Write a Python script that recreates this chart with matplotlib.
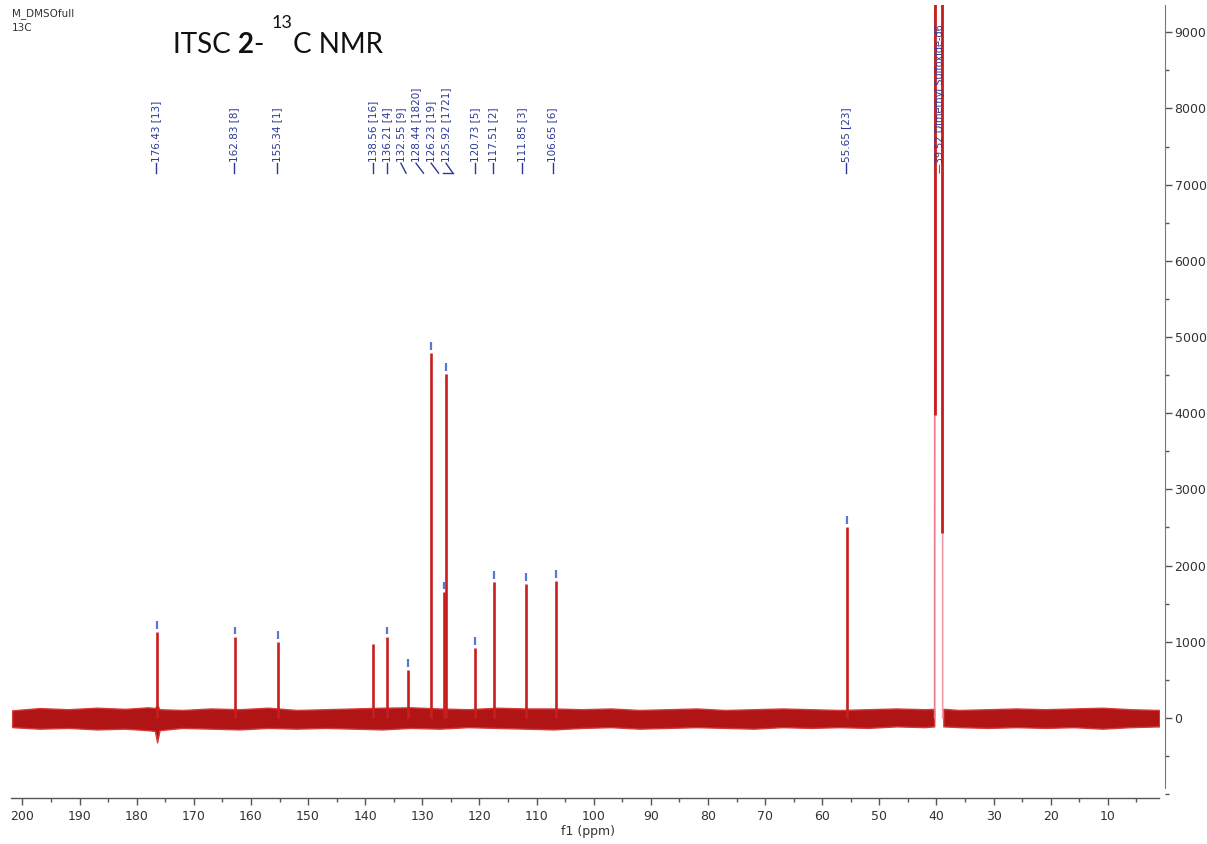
import matplotlib
matplotlib.use("Agg")
import matplotlib.pyplot as plt
from matplotlib.ticker import MultipleLocator

# ---------------- data ----------------
peak_ppm = [176.43, 162.83, 155.34, 138.56, 136.21, 132.55, 128.44, 126.23, 125.92,
            120.73, 117.51, 111.85, 106.65, 55.65]
peak_height = [1130, 1060, 1000, 970, 1060, 630, 4790, 1650, 4520,
               920, 1785, 1760, 1800, 2510]
peak_marked = [True, True, True, False, True, True, True, True, True,
               True, True, True, True, True]
peak_label = ["176.43 [13]", "162.83 [8]", "155.34 [1]", "138.56 [16]", "136.21 [4]",
              "132.55 [9]", "128.44 [1820]", "126.23 [19]", "125.92 [1721]",
              "120.73 [5]", "117.51 [2]", "111.85 [3]", "106.65 [6]", "55.65 [23]"]
label_ppm = [176.55, 162.95, 155.45, 138.6, 136.2, 133.75, 131.1, 128.45, 125.85,
             120.8, 117.7, 112.5, 107.2, 55.8]
label_slant = [0, 0, 0, 0, 0, 0.9, 1.3, 1.3, 1.2, 0, 0, 0, 0, 0]

# DMSO-d6 solvent multiplet (clipped at top)
dmso_label = "39.52 Dimethyl Sulfoxide-d6"
dmso_edge_ppm = [40.20, 39.05]
dmso_edge_height = [3970, 2430]
dmso_top = 30000

# baseline noise envelope (left segment / right segment of DMSO)
noise_ppm_a = [201.8, 197, 192, 187, 182, 178, 176.8, 176.43, 176.0, 172, 167, 162, 157,
               152, 147, 142, 137, 132, 127, 122, 117, 112, 107, 102, 97, 92, 87, 82,
               77, 72, 67, 62, 57, 52, 47, 42, 40.4]
noise_hi_a = [100, 130, 115, 135, 120, 140, 130, 170, 115, 105, 125, 115, 135, 105, 115,
              125, 135, 140, 125, 115, 135, 125, 125, 115, 125, 105, 115, 125, 105, 115,
              125, 115, 105, 115, 125, 115, 120]
noise_lo_a = [-120, -140, -130, -150, -140, -160, -170, -320, -160, -130, -140, -150, -130,
              -140, -130, -140, -150, -130, -140, -120, -130, -140, -150, -130, -120, -140,
              -130, -120, -130, -140, -120, -130, -120, -130, -110, -120, -110]
noise_ppm_b = [38.8, 36, 31, 26, 21, 16, 11, 6, 1.0]
noise_hi_b = [120, 105, 115, 125, 115, 125, 135, 115, 105]
noise_lo_b = [-110, -120, -130, -120, -130, -120, -140, -120, -110]

x_major = list(range(10, 201, 10))
y_major = list(range(0, 9001, 1000))

# ---------------- figure ----------------
W, H = 1207, 844
fig = plt.figure(figsize=(W / 100, H / 100), dpi=100)

def px2fx(x):
    return x / W

def px2fy(y):
    return 1 - y / H

left_px, right_px, top_px, bot_px = 11, 1159.3, 5, 798
ax = fig.add_axes([px2fx(left_px), px2fy(bot_px),
                   (right_px - left_px) / W, (bot_px - top_px) / H])
ax.set_xlim(202, 1)
ax.set_ylim(-1050, 9357)

red = "#c81e1e"
dark_red = "#b01414"
navy = "#2b3896"
marker_blue = "#5a78d0"

# noise band
ax.fill_between(noise_ppm_a, noise_lo_a, noise_hi_a, color=dark_red, lw=1.0,
                edgecolor="#d43a3a", zorder=2)
ax.fill_between(noise_ppm_b, noise_lo_b, noise_hi_b, color=dark_red, lw=1.0,
                edgecolor="#d43a3a", zorder=2)

# peaks
ax.vlines(peak_ppm, 0, peak_height, color=red, lw=1.9, zorder=3)
for p, h, m in zip(peak_ppm, peak_height, peak_marked):
    if m:
        ax.vlines(p, h + 40, h + 140, color=marker_blue, lw=1.6, zorder=4)

# DMSO multiplet
ax.plot([40.32, 40.22], [0, dmso_top], color="#e8788a", lw=1.2, zorder=3)
ax.plot([39.02, 38.92], [dmso_top, 0], color="#f09aa8", lw=1.2, zorder=3)
for p, h in zip(dmso_edge_ppm, dmso_edge_height):
    ax.vlines(p, h, dmso_top, color=red, lw=2.0, zorder=3)
ax.text(39.4, 7150, "\u2014" + dmso_label, rotation=90, ha="center", va="bottom",
        fontsize=7, color=navy, zorder=6, clip_on=False)

# peak labels with connectors
y_bot, y_txt = 7150, 7300
for lp, pk, lab, s in zip(label_ppm, peak_ppm, peak_label, label_slant):
    if s == 0:
        ax.plot([lp, lp], [y_bot, y_txt - 20], color=navy, lw=1.0, zorder=5)
    else:
        ax.plot([lp - s, lp], [y_bot, y_txt - 20], color=navy, lw=1.0, zorder=5)
        if lab.startswith("125.92"):
            ax.plot([lp - s, lp + 0.6], [y_bot, y_bot], color=navy, lw=1.0, zorder=5)
    ax.text(lp, y_txt, lab, rotation=90, ha="center", va="bottom", fontsize=7.5,
            color=navy, zorder=5)

# axes styling
for sp in ["top", "left"]:
    ax.spines[sp].set_visible(False)
ax.spines["right"].set_position(("outward", 4))
ax.spines["right"].set_bounds(-920, 9357)
ax.spines["right"].set_color("#777777")
ax.spines["bottom"].set_color("#555555")
ax.spines["bottom"].set_linewidth(1.0)
ax.yaxis.tick_right()
ax.yaxis.set_label_position("right")
ax.set_yticks(y_major)
ax.set_yticklabels([str(v) for v in y_major])
ax.yaxis.set_minor_locator(MultipleLocator(500))
ax.set_xticks(x_major)
ax.set_xticklabels([str(v) for v in x_major])
ax.xaxis.set_minor_locator(MultipleLocator(5))
ax.tick_params(axis="both", which="major", labelsize=9, labelcolor="#333333",
               color="#555555", length=5, width=1, direction="out")
ax.tick_params(axis="both", which="minor", color="#555555", length=3, width=1,
               direction="out")
ax.tick_params(axis="x", pad=4)
ax.tick_params(axis="y", pad=2)

fig.text(px2fx(588), px2fy(832), "f1 (ppm)", ha="center", va="center",
         fontsize=9, color="#333333")

# top-left info
fig.text(px2fx(12), px2fy(14), "M_DMSOfull", ha="left", va="center",
         fontsize=7.5, color="#333333")
fig.text(px2fx(12), px2fy(28), "13C", ha="left", va="center",
         fontsize=7.5, color="#333333")

# title pieces
fig.canvas.draw()
renderer = fig.canvas.get_renderer()
base_y = px2fy(53)
x = 173
pieces = [("ITSC ", "normal", 20, base_y), ("2", "bold", 20, base_y),
          ("- ", "normal", 20, base_y), ("13", "normal", 13, px2fy(28)),
          ("C NMR", "normal", 20, base_y)]
for txt, wt, fs, yy in pieces:
    t = fig.text(px2fx(x), yy, txt, ha="left", va="baseline", fontsize=fs,
                 fontweight=wt, family="Lato", color="#111111")
    bb = t.get_window_extent(renderer)
    x += bb.width
    if txt == "13":
        x += 1

fig.savefig("out.png", dpi=100)
